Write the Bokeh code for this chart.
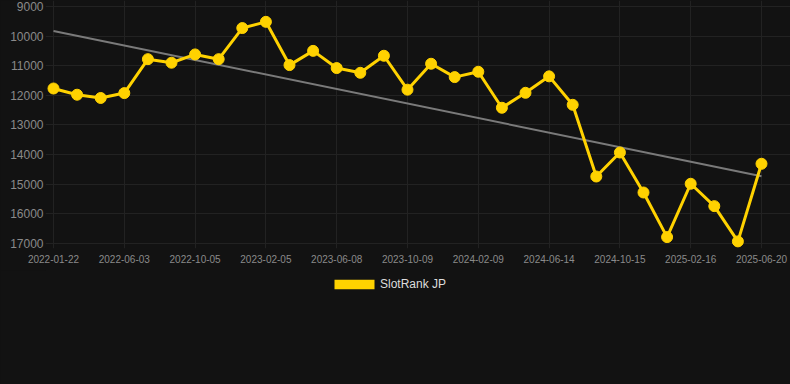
import numpy as np
from bokeh.plotting import figure
from bokeh.layouts import column
from bokeh.models import Range1d, FixedTicker, Legend, LegendItem, ColumnDataSource
from bokeh.embed import file_html
from bokeh.resources import INLINE

# ---- data ----
series_name = "SlotRank JP"
ranks = [11770, 11980, 12090, 11925, 10780, 10900, 10620, 10780, 9730, 9520,
         10980, 10500, 11080, 11240, 10665, 11810, 10935, 11385, 11205, 12420,
         11915, 11360, 12320, 14740, 13930, 15280, 16785, 14985, 15740, 16930, 14310]
tick_labels = ["2022-01-22", "2022-06-03", "2022-10-05", "2023-02-05", "2023-06-08",
               "2023-10-09", "2024-02-09", "2024-06-14", "2024-10-15", "2025-02-16",
               "2025-06-20"]
y_ticks = [9000, 10000, 11000, 12000, 13000, 14000, 15000, 16000, 17000]

idx = list(range(len(ranks)))
label_pos = idx[::3]

# linear trend (least squares)
slope, intercept = np.polyfit(idx, ranks, 1)
trend_x = [idx[0], idx[-1]]
trend_y = [intercept + slope * t for t in trend_x]

BG = "#121212"
GRID = "#222222"
YELLOW = "#FFD200"

p = figure(width=790, height=270, output_backend="svg", toolbar_location=None,
           x_range=Range1d(-0.339, 31.229), y_range=Range1d(17170, 8800),
           min_border_left=45, min_border_right=0, min_border_top=0,
           min_border_bottom=22)
p.background_fill_color = BG
p.border_fill_color = BG
p.outline_line_color = None

# axes
p.xaxis.ticker = FixedTicker(ticks=label_pos)
p.xaxis.major_label_overrides = {pos: lab for pos, lab in zip(label_pos, tick_labels)}
p.yaxis.ticker = FixedTicker(ticks=y_ticks)
for ax in (p.xaxis[0], p.yaxis[0]):
    ax.axis_line_color = None
    ax.major_tick_line_color = GRID
    ax.minor_tick_line_color = None
    ax.major_label_text_color = "#8a8a8a"
    ax.major_label_text_font = "Liberation Sans"
p.xaxis.major_tick_in = 0
p.xaxis.major_tick_out = 0
p.xaxis.major_label_standoff = 6
p.xaxis.major_label_text_font_size = "10px"
p.yaxis.major_tick_in = 0
p.yaxis.major_tick_out = 0
p.yaxis.major_label_standoff = 2
p.yaxis.major_label_text_font_size = "12px"

p.xgrid.grid_line_color = GRID
p.ygrid.grid_line_color = GRID

# trend line
p.line(trend_x, trend_y, line_color="#7a7a7a", line_width=2)

# series
src = ColumnDataSource(dict(x=idx, y=ranks))
p.line("x", "y", source=src, line_color=YELLOW, line_width=3)
p.scatter("x", "y", source=src, size=11, fill_color=YELLOW, line_color=YELLOW)

# ---- legend strip (separate small figure below the chart) ----
lg = figure(width=790, height=114, output_backend="svg", toolbar_location=None,
            x_range=Range1d(0, 1), y_range=Range1d(0, 1),
            x_axis_location=None, y_axis_location=None,
            min_border_left=0, min_border_right=0, min_border_top=0,
            min_border_bottom=0)
lg.background_fill_color = BG
lg.border_fill_color = BG
lg.outline_line_color = None
lg.xgrid.visible = False
lg.ygrid.visible = False
# swatch renderer kept outside the visible range; only used for the legend glyph
swatch = lg.quad(left=[5], right=[6], top=[6], bottom=[5],
                 fill_color=YELLOW, line_color=None)

legend = Legend(items=[LegendItem(label=series_name, renderers=[swatch])],
                location=(284, 93), orientation="horizontal",
                glyph_width=50, glyph_height=12, label_standoff=1,
                label_text_font_size="12px", label_text_color="#dddddd",
                label_text_font="Liberation Sans", label_height=10,
                padding=0, margin=0, spacing=0,
                background_fill_alpha=0, border_line_alpha=0)
lg.add_layout(legend, "center")

layout = column(p, lg, spacing=0)

html = file_html(layout, INLINE)
style = "<style>html, body { margin: 0 !important; padding: 0; background: #121212 !important; }</style>"
html = html.replace("</head>", style + "</head>", 1)
open("out.html", "w").write(html)
